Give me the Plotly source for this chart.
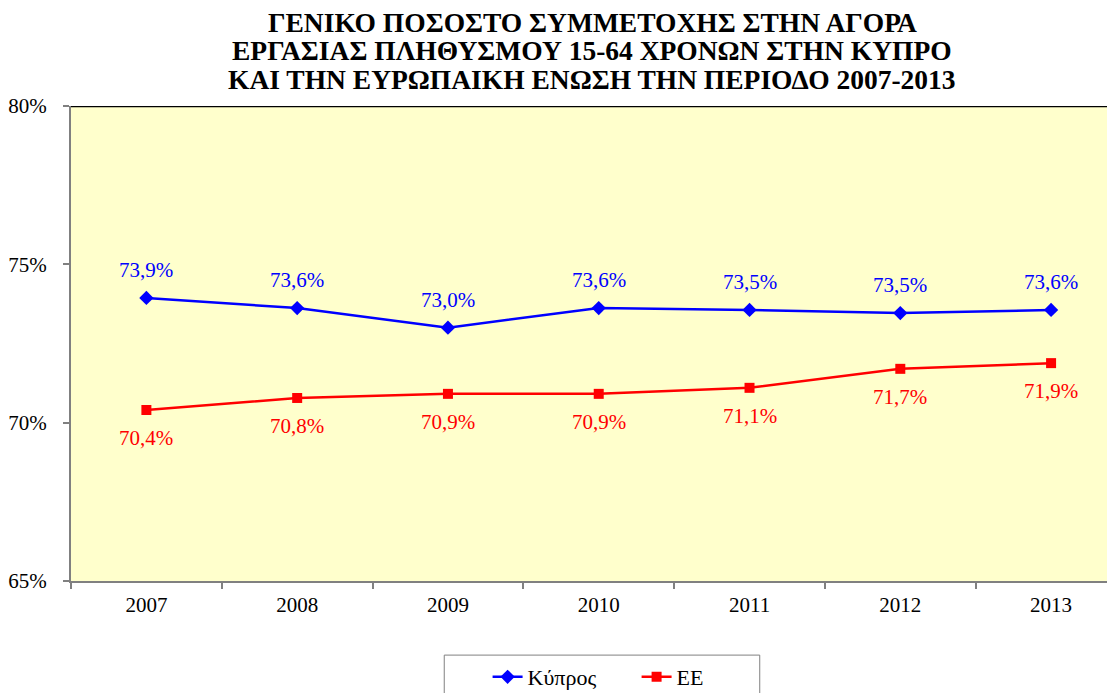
import plotly.graph_objects as go

years = ["2007", "2008", "2009", "2010", "2011", "2012", "2013"]
cyprus = [73.94, 73.62, 73.0, 73.62, 73.56, 73.46, 73.56]
eu = [70.40, 70.78, 70.91, 70.91, 71.10, 71.70, 71.88]
cyprus_labels = ["73,9%", "73,6%", "73,0%", "73,6%", "73,5%", "73,5%", "73,6%"]
eu_labels = ["70,4%", "70,8%", "70,9%", "70,9%", "71,1%", "71,7%", "71,9%"]
y_ticks = [65, 70, 75, 80]
y_tick_text = ["65%", "70%", "75%", "80%"]

title_lines = [
    "ΓΕΝΙΚΟ ΠΟΣΟΣΤΟ ΣΥΜΜΕΤΟΧΗΣ ΣΤΗΝ ΑΓΟΡΑ",
    "ΕΡΓΑΣΙΑΣ ΠΛΗΘΥΣΜΟΥ 15-64 ΧΡΟΝΩΝ ΣΤΗΝ ΚΥΠΡΟ",
    "ΚΑΙ ΤΗΝ ΕΥΡΩΠΑΙΚΗ ΕΝΩΣΗ ΤΗΝ ΠΕΡΙΟΔΟ 2007-2013",
]
title_y = [1.1768, 1.1168, 1.0568]

FONT = "Liberation Serif, Times New Roman, serif"

fig = go.Figure()
fig.add_trace(go.Scatter(
    x=years, y=cyprus, name="Κύπρος", mode="lines+markers",
    line=dict(color="#0000FF", width=2.5),
    marker=dict(symbol="diamond", size=11, color="#0000FF"),
))
fig.add_trace(go.Scatter(
    x=years, y=eu, name="ΕΕ", mode="lines+markers",
    line=dict(color="#FF0000", width=2.5),
    marker=dict(symbol="square", size=10, color="#FF0000"),
))

for i, (y, t) in enumerate(zip(cyprus, cyprus_labels)):
    fig.add_annotation(x=i, y=y, xref="x", yref="y", text=t, showarrow=False,
                       yshift=28, font=dict(family=FONT, size=21, color="#0000FF"))
for i, (y, t) in enumerate(zip(eu, eu_labels)):
    fig.add_annotation(x=i, y=y, xref="x", yref="y", text=t, showarrow=False,
                       yshift=-28, font=dict(family=FONT, size=21, color="#FF0000"))

for line, ty in zip(title_lines, title_y):
    fig.add_annotation(x=0.4957, y=ty, xref="paper", yref="paper", text="<b>" + line + "</b>",
                       showarrow=False, xanchor="center", yanchor="middle",
                       font=dict(family=FONT, size=27.5, color="black"))

# top border of plot area
fig.add_shape(type="line", xref="paper", yref="y", x0=0, x1=1, y0=80, y1=80,
              line=dict(color="black", width=2.5))
# legend frame
fig.add_shape(type="rect", xref="paper", yref="paper", x0=0.3548, x1=0.6547,
              y0=-0.156, y1=-0.30, line=dict(color="#808080", width=1),
              fillcolor="white", layer="below")

fig.update_layout(
    width=1115, height=693,
    margin=dict(l=58, r=0, t=98, b=120),
    paper_bgcolor="white",
    plot_bgcolor="#FFFFCC",
    font=dict(family=FONT, size=21, color="black"),
    showlegend=True,
    legend=dict(orientation="h", x=0.396, xanchor="left", y=-0.158, yanchor="top",
                borderwidth=0, bgcolor="rgba(0,0,0,0)",
                font=dict(family=FONT, size=22), entrywidth=104),
    xaxis=dict(type="category", range=[-0.5, 6.477], tickson="boundaries",
               ticks="outside", ticklen=6, tickcolor="#808080", tickwidth=2,
               showline=True, linecolor="#808080", linewidth=2,
               showgrid=False, zeroline=False, tickfont=dict(size=21),
               ticklabelstandoff=4),
    yaxis=dict(range=[65, 80], tickmode="array", tickvals=y_ticks, ticktext=y_tick_text,
               ticks="outside", ticklen=6, tickcolor="#808080", tickwidth=2,
               showline=True, linecolor="#808080", linewidth=2,
               showgrid=False, zeroline=False, tickfont=dict(size=21),
               ticklabelstandoff=12),
)

fig.write_html("out.html")
